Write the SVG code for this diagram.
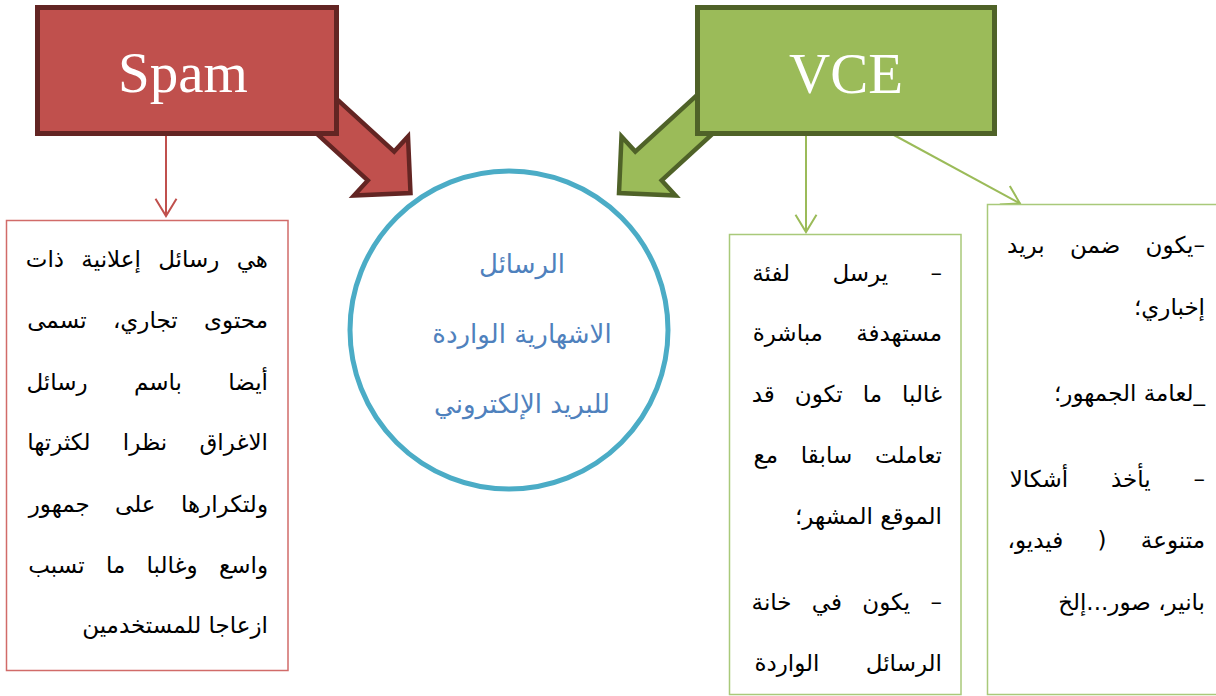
<svg xmlns="http://www.w3.org/2000/svg" width="1216" height="696" viewBox="0 0 1216 696">
<defs>
<style>
.title{font-family:"Liberation Serif","Times New Roman",serif;font-size:57px;fill:#ffffff;text-anchor:middle}
.ar{font-family:"DejaVu Sans",sans-serif;font-size:23px;fill:#000000;direction:rtl;text-anchor:start}
.arc{font-family:"DejaVu Sans",sans-serif;font-size:26px;fill:#4F81BD;direction:rtl;text-anchor:middle}
.redline{stroke:#C0504D;stroke-width:2;fill:none}
.greenline{stroke:#9BBB59;stroke-width:2;fill:none}
</style>
<marker id="redHead" viewBox="0 0 24 24" refX="20" refY="12" markerWidth="24" markerHeight="24" markerUnits="userSpaceOnUse" orient="auto">
<path d="M2.7,1.5 L20,12 L2.7,22.5" fill="none" stroke="#C0504D" stroke-width="2"/>
</marker>
<marker id="greenHead" viewBox="0 0 24 24" refX="20" refY="12" markerWidth="24" markerHeight="24" markerUnits="userSpaceOnUse" orient="auto">
<path d="M2.7,1.5 L20,12 L2.7,22.5" fill="none" stroke="#9BBB59" stroke-width="2"/>
</marker>
</defs>
<rect width="1216" height="696" fill="#ffffff"/>

<g id="connectors">
<polygon id="spamArrow" points="305.7,70.6 394.2,151.6 408,136.5 410.5,193 354,195.5 367.8,180.4 279.3,99.4" fill="#C0504D" stroke="#632523" stroke-width="4.5" stroke-linejoin="miter"/>
<polygon id="vceArrow" points="723.8,70.6 635.3,151.6 621.5,136.5 619,193 675.5,195.5 661.7,180.4 750.2,99.4" fill="#9BBB59" stroke="#4F6228" stroke-width="4.5" stroke-linejoin="miter"/>
<line class="redline" x1="166" y1="135" x2="166" y2="216" marker-end="url(#redHead)"/>
<line class="greenline" x1="806" y1="135" x2="806" y2="232" marker-end="url(#greenHead)"/>
<line class="greenline" x1="892" y1="134" x2="1020" y2="203.5" marker-end="url(#greenHead)"/>
</g>

<g id="spam">
<rect x="37.5" y="7.5" width="299" height="126" fill="#C0504D" stroke="#632523" stroke-width="5"/>
<text class="title" x="183" y="92">Spam</text>
</g>

<g id="vce">
<rect x="697.5" y="7.5" width="297" height="126" fill="#9BBB59" stroke="#4F6228" stroke-width="5"/>
<text class="title" x="846" y="93">VCE</text>
</g>

<g id="center">
<circle cx="509" cy="330" r="159" fill="#ffffff" stroke="#4BACC6" stroke-width="5"/>
<text class="arc" x="522" y="273">الرسائل</text>
<text class="arc" x="522" y="343">الاشهارية الواردة</text>
<text class="arc" x="522" y="413">للبريد الإلكتروني</text>
</g>

<g id="spamDesc">
<rect x="6.5" y="220.5" width="281.5" height="450" fill="#ffffff" stroke="#D16B69" stroke-width="1.5"/>
<text class="ar" x="268" y="267" word-spacing="10">هي رسائل إعلانية ذات</text>
<text class="ar" x="268" y="328" word-spacing="19">محتوى تجاري، تسمى</text>
<text class="ar" x="268" y="390" word-spacing="39">أيضا باسم رسائل</text>
<text class="ar" x="268" y="450" word-spacing="25">الاغراق نظرا لكثرتها</text>
<text class="ar" x="268" y="512" word-spacing="18">ولتكرارها على جمهور</text>
<text class="ar" x="268" y="573" word-spacing="14">واسع وغالبا ما تسبب</text>
<text class="ar" x="268" y="633">ازعاجا للمستخدمين</text>
</g>

<g id="vceDesc1">
<rect x="729.5" y="234.5" width="231.5" height="460" fill="#ffffff" stroke="#A9C97A" stroke-width="1.5"/>
<text class="ar" x="942" y="281" word-spacing="35">– يرسل لفئة</text>
<text class="ar" x="942" y="341" word-spacing="26">مستهدفة مباشرة</text>
<text class="ar" x="942" y="402" word-spacing="12.7">غالبا ما تكون قد</text>
<text class="ar" x="942" y="463" word-spacing="15.5">تعاملت سابقا مع</text>
<text class="ar" x="942" y="524">الموقع المشهر؛</text>
<text class="ar" x="942" y="610" word-spacing="13">– يكون في خانة</text>
<text class="ar" x="942" y="671" word-spacing="39">الرسائل الواردة</text>
</g>

<g id="vceDesc2">
<rect x="987.5" y="204.5" width="240" height="490" fill="#ffffff" stroke="#A9C97A" stroke-width="1.5"/>
<text class="ar" x="1205" y="253" word-spacing="18">–يكون ضمن بريد</text>
<text class="ar" x="1205" y="315">إخباري؛</text>
<text class="ar" x="1205" y="401">_لعامة الجمهور؛</text>
<text class="ar" x="1205" y="487" word-spacing="35.5">– يأخذ أشكالا</text>
<text class="ar" x="1205" y="548" word-spacing="27">متنوعة ( فيديو،</text>
<text class="ar" x="1205" y="610">بانير، صور...إلخ</text>
</g>
</svg>
